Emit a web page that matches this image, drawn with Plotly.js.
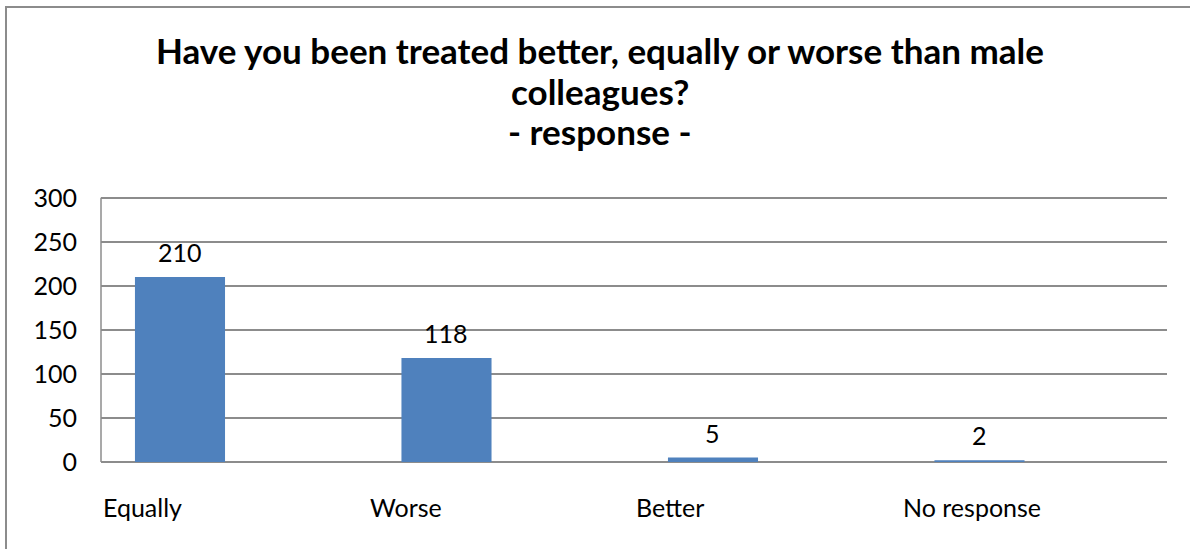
<!DOCTYPE html>
<html>
<head>
<meta charset="utf-8">
<script src="https://cdn.plot.ly/plotly-3.0.1.min.js"></script>
<style>
  html, body { margin: 0; padding: 0; background: #fff; }
  #wrap { position: relative; width: 1190px; height: 549px; overflow: hidden; }
  #chart { width: 1190px; height: 549px; }
  #frame { position: absolute; left: 5px; top: 6px; width: 1300px; height: 700px;
           border-left: 2px solid #8c8c8c; border-top: 2px solid #8c8c8c; pointer-events: none; }
</style>
</head>
<body>
<div id="wrap">
  <div id="chart"></div>
  <div id="frame"></div>
</div>
<script>
const categories = ["Equally", "Worse", "Better", "No response"];
const values = [210, 118, 5, 2];
const yTicks = [0, 50, 100, 150, 200, 250, 300];
const titleLines = ["Have you been treated better, equally or worse than male", "colleagues?", "- response -"];

const FONT = "Lato, 'Open Sans', sans-serif";
const xs = categories.map((c, i) => i);

const trace = {
  type: "bar",
  x: xs,
  y: values,
  width: 0.338,
  marker: { color: "#4F81BD", line: { width: 0 } },
  hoverinfo: "skip"
};

const annotations = [];
values.forEach((v, i) => {
  annotations.push({
    x: i, y: v, xref: "x", yref: "y",
    text: String(v), showarrow: false,
    xanchor: "center", yanchor: "middle", yshift: 25,
    font: { family: FONT, size: 25, color: "#000" }
  });
});
categories.forEach((c, i) => {
  annotations.push({
    x: i - 0.295, y: -0.1706, xref: "x", yref: "paper",
    text: c, showarrow: false,
    xanchor: "left", yanchor: "middle",
    font: { family: FONT, size: 25, color: "#000" }
  });
});
const titleY = [1.548, 1.396, 1.243];
titleLines.forEach((t, i) => {
  annotations.push({
    x: 0.468, xref: "paper", y: titleY[i], yref: "paper",
    text: "<b>" + t + "</b>", showarrow: false,
    xanchor: "center", yanchor: "middle",
    font: { family: FONT, size: 35, color: "#000" }
  });
});

const layout = {
  width: 1190, height: 549,
  margin: { l: 101, r: 23, t: 195.73, b: 86.5 },
  paper_bgcolor: "#fff", plot_bgcolor: "#fff",
  showlegend: false,
  title: { text: "" },
  xaxis: {
    type: "linear",
    range: [-0.2964, 3.7036],
    showgrid: false, zeroline: false,
    showticklabels: false, ticks: "",
    showline: false, fixedrange: true
  },
  yaxis: {
    range: [0, 302],
    tickvals: yTicks,
    ticktext: yTicks.map(String),
    showgrid: true, gridcolor: "#8c8c8c", gridwidth: 1.5,
    zeroline: true, zerolinecolor: "#8c8c8c", zerolinewidth: 1.5,
    showline: false,
    ticks: "", ticklen: 0,
    tickfont: { family: FONT, size: 25, color: "#000" },
    ticklabelstandoff: 23,
    fixedrange: true
  },
  shapes: [{
    type: "line", xref: "paper", yref: "y",
    x0: 0, x1: 0, y0: 0, y1: yTicks[yTicks.length - 1],
    line: { color: "#8c8c8c", width: 1.5 }
  }],
  annotations: annotations
};

Plotly.newPlot("chart", [trace], layout, { displayModeBar: false, staticPlot: true });
</script>
</body>
</html>
